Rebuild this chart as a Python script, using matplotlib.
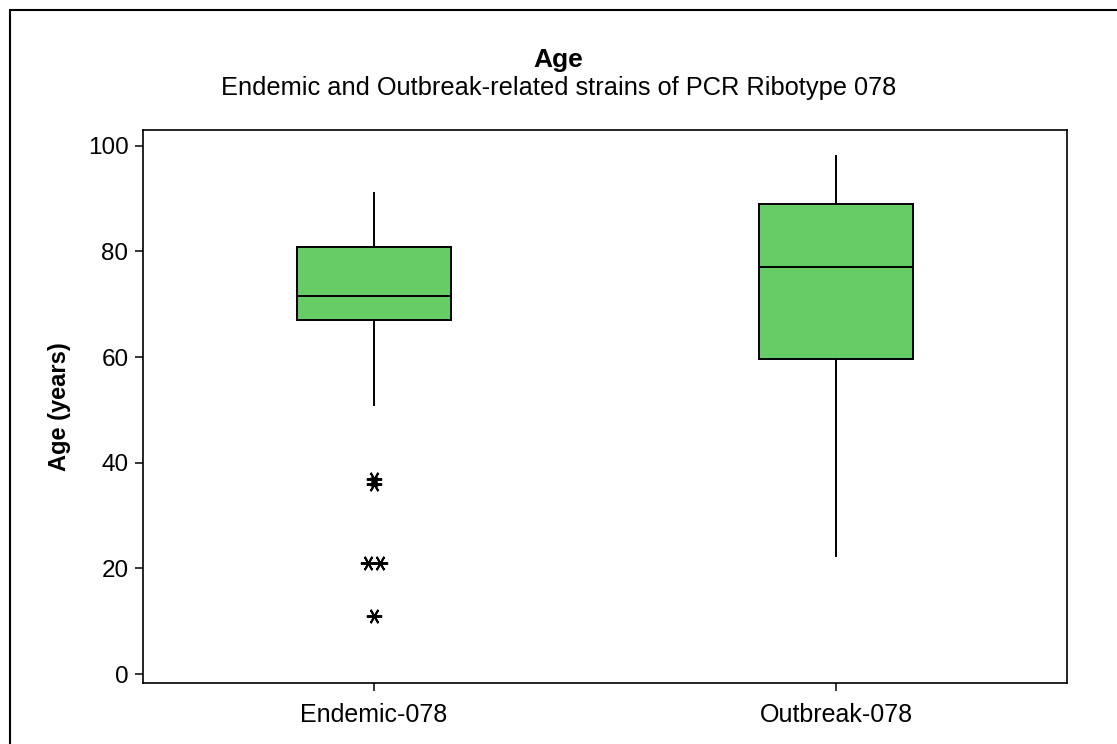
import matplotlib
matplotlib.use("Agg")
import matplotlib.pyplot as plt
from matplotlib.patches import Rectangle
from collections import Counter

# Box-plot summaries for patient age (years)
groups = ["Endemic-078", "Outbreak-078"]
q1 = [67, 59.7]
median = [71.6, 77.1]
q3 = [80.8, 88.9]
whisker_low = [51, 22.3]
whisker_high = [91, 98]
outliers = [[37, 36, 21, 21, 11], []]

yticks = [0, 20, 40, 60, 80, 100]

box_color = "#66CC66"

fig = plt.figure(figsize=(11.17, 7.44), dpi=100)
fig.patch.set_facecolor("white")

# outer frame around the graph region
fig.patches.append(Rectangle((10 / 1117, -0.1), 1.2, 1 - 10 / 744 + 0.1,
                             transform=fig.transFigure, fill=False,
                             edgecolor="black", linewidth=1.5))

ax = fig.add_axes([143 / 1117, 1 - 683 / 744, (1067 - 143) / 1117, (683 - 130) / 744])

positions = list(range(1, len(groups) + 1))
stats = []
for i, g in enumerate(groups):
    stats.append(dict(label=g, med=median[i], q1=q1[i], q3=q3[i],
                      whislo=whisker_low[i], whishi=whisker_high[i], fliers=[]))

ax.bxp(stats, positions=positions, widths=0.335, showfliers=False,
       showcaps=False, patch_artist=True,
       boxprops=dict(facecolor=box_color, edgecolor="black", linewidth=1.4),
       medianprops=dict(color="black", linewidth=1.4),
       whiskerprops=dict(color="black", linewidth=1.4))

# outliers drawn as asterisks; tied values are spread side by side
spread = 0.014
for pos, vals in zip(positions, outliers):
    counts = Counter(vals)
    for v, n in counts.items():
        for k in range(n):
            off = (k - (n - 1) / 2) * 2 * spread
            ax.plot(pos + off, v, linestyle="none", marker=(6, 2, 90),
                    markersize=11, markeredgewidth=1.4, color="black")

ax.set_xlim(0.5, 2.5)
ax.set_ylim(-1.7, 103.0)
ax.set_yticks(yticks)
ax.set_yticklabels([str(t) for t in yticks], fontfamily="Liberation Sans", fontsize=17.5)
ax.set_xticks(positions)
ax.set_xticklabels(groups, fontfamily="Liberation Sans", fontsize=18)
ax.tick_params(axis="both", direction="out", length=5.5, width=1.1, colors="black")
ax.tick_params(axis="y", pad=5)
ax.tick_params(axis="x", pad=9)
for s in ax.spines.values():
    s.set_linewidth(1.2)

ax.set_ylabel("Age (years)", fontfamily="Liberation Sans", fontweight="bold",
              fontsize=17, labelpad=12)

fig.text(0.5, 1 - 60 / 744, "Age", ha="center", va="center",
         fontfamily="Liberation Sans", fontweight="bold", fontsize=19)
fig.text(0.5, 1 - 88 / 744, "Endemic and Outbreak-related strains of PCR Ribotype 078",
         ha="center", va="center", fontfamily="Liberation Sans", fontsize=18.3)

fig.savefig("out.png", dpi=100)
